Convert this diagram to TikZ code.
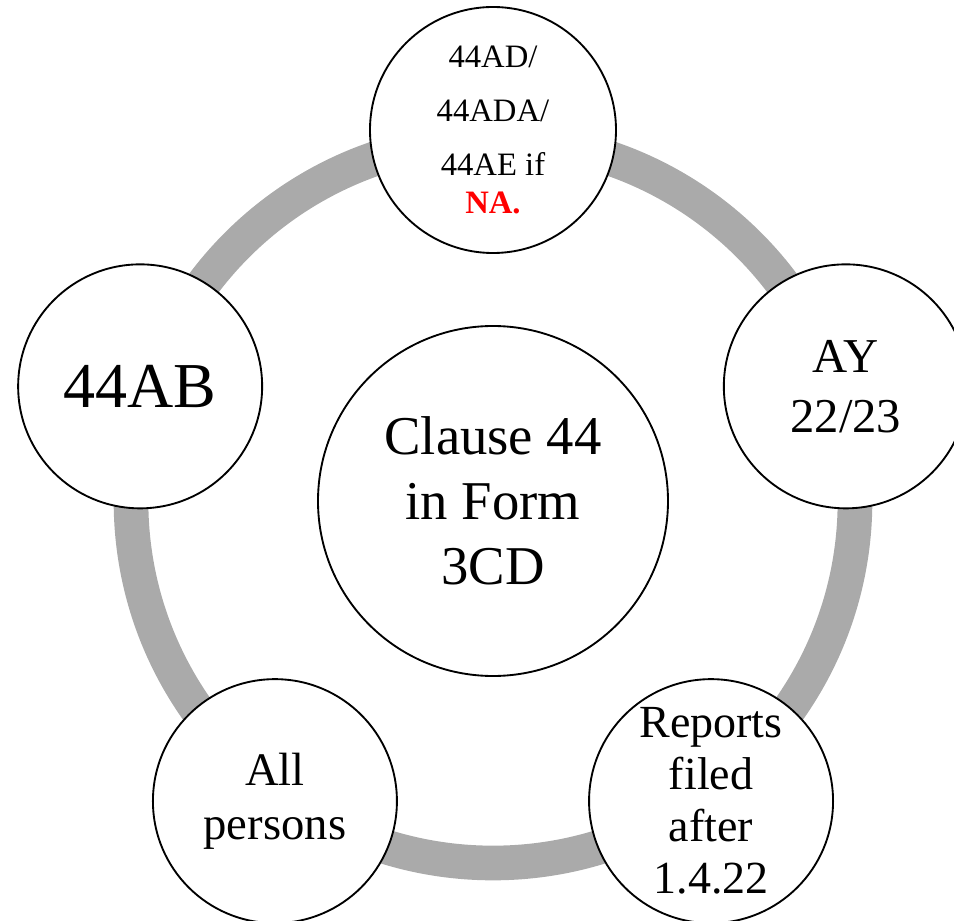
\documentclass[tikz,border=0pt]{standalone}
\usepackage{fontspec}
\setmainfont{Liberation Serif}
\usepackage{xcolor}

\definecolor{ringgray}{HTML}{AAAAAA}

\tikzset{
  bubble/.style={circle, draw=black, line width=1.4pt, fill=white,
                 inner sep=0pt, align=center, minimum size=183pt},
}

\begin{document}
\begin{tikzpicture}[x=0.75pt, y=0.75pt]
      \useasboundingbox (-493,-420) rectangle (461,501);
      % ring behind the bubbles
      \draw [ringgray, line width=26pt] (0,0) circle (362);
      \node [bubble, minimum size=262.5pt,
             font={\fontsize{41}{48.75}\selectfont}] (hub) at (0,0)
            {Clause 44\\in Form\\3CD};
      \node [bubble, minimum size=184.5pt,
             font={\fontsize{24.5}{40.5}\selectfont}] (adae) at (90:371)
            {44AD/\\44ADA/\\44AE if\\[-12pt]\textcolor{red}{\bfseries NA.}};
      \node [bubble, font={\fontsize{48}{55}\selectfont}] (ab) at (162:371) {44AB};
      \node [bubble, font={\fontsize{36.5}{45}\selectfont}] (ay) at (18:371) {AY\\22/23};
      \node [bubble, font={\fontsize{35}{41}\selectfont}] (persons) at (234:371) {All\\persons};
      \node [bubble, font={\fontsize{34.5}{39}\selectfont}] (reports) at (306:371)
            {Reports\\filed\\after\\1.4.22};
    \end{tikzpicture}
\end{document}
